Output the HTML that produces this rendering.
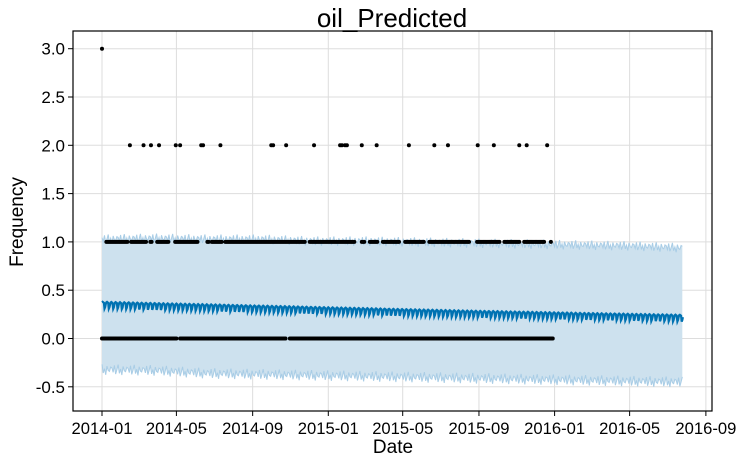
<!DOCTYPE html>
<html><head><meta charset="utf-8"><style>
body{margin:0;background:#fff;font-family:"Liberation Sans","DejaVu Sans",sans-serif}
svg text{font-family:"Liberation Sans","DejaVu Sans",sans-serif;fill:#000}
</style></head><body>
<svg id="c" width="742" height="462">
<text x="392" y="27" font-size="26" text-anchor="middle">oil_Predicted</text>
<text x="393" y="453" font-size="19" text-anchor="middle">Date</text>
<text x="23" y="222" font-size="19" text-anchor="middle" transform="rotate(-90 23 222)">Frequency</text>
<g id="grid"></g><g id="band"></g><g id="line"></g><g id="pts"></g><g id="axes"></g>
</svg>
<script>
// data
const xTickLabels=["2014-01","2014-05","2014-09","2015-01","2015-05","2015-09","2016-01","2016-05","2016-09"];
const xTickDays=[0,120,243,365,485,608,730,851,974];
const yTicks=[-0.5,0,0.5,1.0,1.5,2.0,2.5,3.0];
const threeDays=[0];
const twoDays=[45,67,79,92,119,126,160,163,191,273,276,297,342,384,387,392,395,419,443,495,536,558,606,632,673,685,718];
const oneRanges=[[7,42],[47,71],[78,81],[89,107],[118,155],[170,172],[177,194],[199,328],[335,408],[419,424],[432,445],[453,480],[489,520],[528,593],[605,641],[649,673],[681,713],[724,725]];
const zeroRanges=[[0,121],[126,297],[303,727]];
const trendDays=[0,193,385,578,771,937];
const trendVals=[0.355,0.325,0.295,0.265,0.24,0.22];
const weekly=[0.02,0.025,0.02,0.015,-0.045,-0.03,0.0];
const upperVals=[1.02,1.03,1.02,1.02,1.0,1.0,0.99,0.98,0.97,0.96,0.95,0.93];
const lowerVals=[-0.33,-0.34,-0.37,-0.38,-0.39,-0.40,-0.41,-0.42,-0.43,-0.44,-0.45,-0.46];
const noise=[0.03,-0.02,0.06,-0.04,0.01,0.07,-0.03,0.02,-0.05,0.05,0.0,-0.01,0.04];
const lastDay=937;
// axes
const X0=73,X1=712,Y0=31,Y1=411;
const xs=d=>102+d*0.62;
const ys=v=>338.5-v*96.6;
const ns="http://www.w3.org/2000/svg";
function mk(t,a,p){const e=document.createElementNS(ns,t);for(const k in a)e.setAttribute(k,a[k]);p.appendChild(e);return e;}
const grid=document.getElementById('grid'),axes=document.getElementById('axes'),band=document.getElementById('band'),line=document.getElementById('line'),pts=document.getElementById('pts');
xTickDays.forEach((d,i)=>{const x=xs(d);
 const g=mk('line',{x1:x,x2:x,y1:Y0,y2:Y1,stroke:'#ddd','stroke-width':1},grid);
 
 
 mk('line',{x1:x,x2:x,y1:Y1,y2:Y1+5,stroke:'#000'},axes);
 const t=mk('text',{x:x,y:Y1+23,'font-size':17,'text-anchor':'middle',textLength:61,lengthAdjust:'spacingAndGlyphs'},axes);t.textContent=xTickLabels[i];
 
 });
yTicks.forEach(v=>{const y=ys(v);
 const g=mk('line',{x1:X0,x2:X1,y1:y,y2:y,stroke:'#ddd','stroke-width':1},grid);
 
 
 mk('line',{x1:X0-5,x2:X0,y1:y,y2:y,stroke:'#000'},axes);
 const t=mk('text',{x:X0-8,y:y+6,'font-size':17,'text-anchor':'end'},axes);t.textContent=v.toFixed(1);
 
 });
const fr=mk('rect',{x:X0,y:Y0,width:X1-X0,height:Y1-Y0,fill:'none',stroke:'#000','stroke-width':1.2},axes);


function interp(arr,d){const f=d/lastDay*(arr.length-1);const i=Math.min(Math.floor(f),arr.length-2);const t=f-i;return arr[i]*(1-t)+arr[i+1]*t;}
function interpT(d){let i=0;while(i<trendDays.length-2&&d>trendDays[i+1])i++;const t=(d-trendDays[i])/(trendDays[i+1]-trendDays[i]);return trendVals[i]*(1-t)+trendVals[i+1]*t;}
// band
let up=[],lo=[];
for(let d=0;d<=lastDay;d+=2){up.push([xs(d),ys(interp(upperVals,d)+noise[(d/2)%noise.length]*0.8)]);lo.push([xs(d),ys(interp(lowerVals,d)+noise[(d/2+5)%noise.length]*0.9)]);}
const poly=up.concat(lo.slice().reverse()).map(p=>p.join(',')).join(' ');
const bp=mk('polygon',{points:poly,fill:'#cde1ee',stroke:'none'},band);


[up,lo].forEach((a,i)=>{const l=mk('polyline',{points:a.map(p=>p.join(',')).join(' '),fill:'none',stroke:'#a9cde6','stroke-width':1},band);
 
 });
// forecast
let fp=[];for(let d=0;d<=lastDay;d++)fp.push(xs(d).toFixed(1)+','+ys(interpT(d)+weekly[d%7]).toFixed(1));
const fl=mk('polyline',{points:fp.join(' '),fill:'none',stroke:'#0072b2','stroke-width':2.2},line);


// points
function dot(d,v){const c=mk('circle',{cx:xs(d),cy:ys(v),r:2,fill:'#000'},pts);
 
 }
threeDays.forEach(d=>dot(d,3));
twoDays.forEach(d=>dot(d,2));
oneRanges.forEach(r=>{for(let d=r[0];d<=r[1];d+=2)dot(d,1);});
zeroRanges.forEach(r=>{for(let d=r[0];d<=r[1];d+=2)dot(d,0);});
</script>
</body></html>
